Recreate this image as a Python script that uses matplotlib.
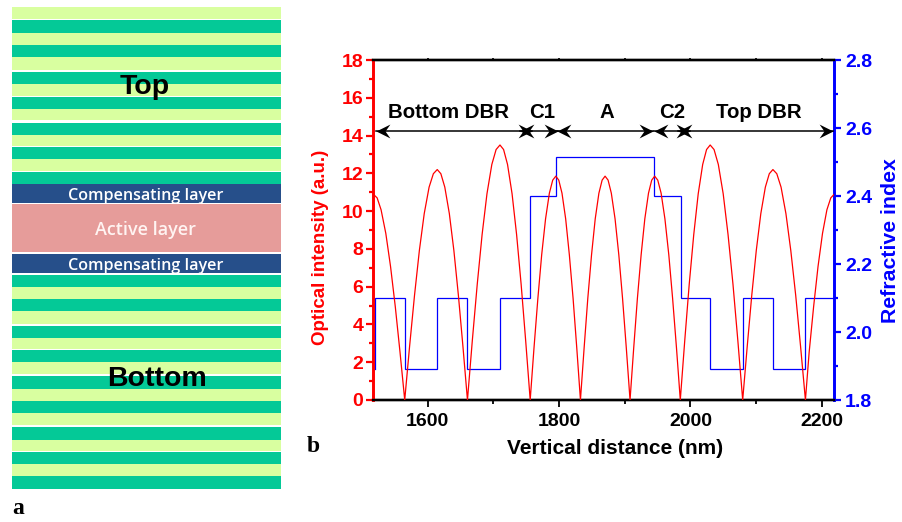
import matplotlib
matplotlib.use('Agg')
from matplotlib import pyplot as plt

plt.rcParams['font.family'] = ['Liberation Sans', 'DejaVu Sans']
plt.rcParams['font.weight'] = 'bold'
plt.rcParams['axes.labelweight'] = 'bold'

# optical intensity curve
distance = [
    1517, 1523, 1529, 1536.2, 1543.4, 1550.6, 1557.8, 1565,
    1572.4, 1579.9, 1587.3, 1594.7, 1602.1, 1608.6, 1614.5,
    1620, 1626, 1632.9, 1639.8, 1646.7, 1653.6, 1660.5,
    1667.9, 1675.4, 1682.8, 1690.2, 1697.6, 1704.1, 1710,
    1715.5, 1721.5, 1728.4, 1735.3, 1742.2, 1749.1, 1756,
    1761.8, 1767.7, 1773.5, 1779.4, 1785.2, 1790.3, 1795,
    1799.5, 1804.4, 1810, 1815.6, 1821.3, 1826.9, 1832.5,
    1838.1, 1843.7, 1849.4, 1855, 1860.6, 1865.5, 1870,
    1874.6, 1879.5, 1885.2, 1890.9, 1896.6, 1902.3, 1908,
    1913.6, 1919.2, 1924.9, 1930.5, 1936.1, 1941, 1945.5,
    1950.2, 1955.3, 1961.1, 1967, 1972.8, 1978.7, 1984.5,
    1991.3, 1998.1, 2005, 2011.8, 2018.6, 2024.5, 2030,
    2035.9, 2042.4, 2049.8, 2057.2, 2064.7, 2072.1, 2079.5,
    2086.4, 2093.3, 2100.2, 2107.1, 2114, 2120, 2125.5,
    2131.4, 2137.9, 2145.3, 2152.7, 2160.2, 2167.6, 2175,
    2180.7, 2187.5, 2194.2, 2201, 2207.7, 2213.6, 2219,
]
intensity = [
    10.9, 10.7, 10.07, 8.82, 7.07, 4.95, 2.54, 0,
    2.84, 5.54, 7.92, 9.87, 11.27, 11.98, 12.2,
    11.98, 11.27, 9.87, 7.92, 5.54, 2.84, 0,
    3.15, 6.13, 8.76, 10.92, 12.47, 13.26, 13.5,
    13.26, 12.47, 10.92, 8.76, 6.13, 3.15, 0,
    2.76, 5.38, 7.69, 9.59, 10.95, 11.64, 11.85,
    11.64, 10.95, 9.59, 7.69, 5.38, 2.76, 0,
    2.76, 5.38, 7.69, 9.59, 10.95, 11.64, 11.85,
    11.64, 10.95, 9.59, 7.69, 5.38, 2.76, 0,
    2.76, 5.38, 7.69, 9.59, 10.95, 11.64, 11.85,
    11.64, 10.95, 9.59, 7.69, 5.38, 2.76, 0,
    3.15, 6.13, 8.76, 10.92, 12.47, 13.26, 13.5,
    13.26, 12.47, 10.92, 8.76, 6.13, 3.15, 0,
    2.84, 5.54, 7.92, 9.87, 11.27, 11.98, 12.2,
    11.98, 11.27, 9.87, 7.92, 5.54, 2.84, 0,
    2.54, 4.95, 7.07, 8.82, 10.07, 10.7, 10.9,
]

# refractive index steps
step_x = [1519, 1519, 1565, 1565, 1614, 1614, 1660, 1660, 1710, 1710, 1755, 1755, 1795, 1795,
          1945, 1945, 1985, 1985, 2030, 2030, 2080, 2080, 2126, 2126, 2174, 2174, 2218]
step_n = [1.89, 2.1, 2.1, 1.89, 1.89, 2.1, 2.1, 1.89, 1.89, 2.1, 2.1, 2.4, 2.4, 2.515,
          2.515, 2.4, 2.4, 2.1, 2.1, 1.89, 1.89, 2.1, 2.1, 1.89, 1.89, 2.1, 2.1]

# regions marked over the curve, arrows overlap a bit like in the figure
region_names = ['Bottom DBR', 'C1', 'A', 'C2', 'Top DBR']
arrow_from = [1521, 1740.5, 1797, 1944.6, 1981]
arrow_to = [1759, 1798.4, 1942.6, 1999.6, 2217.5]
region_label_x = [1631, 1774, 1872, 1972, 2104]

# layer stack of panel a, top to bottom: start, end, kind
stack_tops = [7, 20, 32.5, 45, 57, 72, 84, 97, 109, 122.5, 135, 147, 159, 171.5, 184, 204, 253.5,
              274.5, 287, 299, 311, 325.5, 338, 349.5, 362, 376, 389, 401, 413, 427, 439.5, 451.5, 464, 476]
stack_ends = [19, 32.5, 44.5, 57, 69.5, 84, 96, 108.5, 120, 134.5, 146, 158.5, 171, 184, 202.5, 252, 272.5,
              286.5, 299, 311, 324, 338, 349, 362, 374, 389, 401, 413, 425, 439.5, 451, 464, 476, 489]
stack_kinds = ['l', 'g', 'l', 'g', 'l', 'g', 'l', 'g', 'l', 'g', 'l', 'g', 'l', 'g', 'n', 'p', 'n',
               'g', 'l', 'g', 'l', 'g', 'l', 'g', 'l', 'g', 'l', 'g', 'l', 'g', 'l', 'g', 'l', 'g']
kind_colors = {'l': '#D9FFA0', 'g': '#04C997', 'n': '#264F8A', 'p': '#E69C9A'}

W, H = 903, 522
fig = plt.figure(figsize=(W / 100, H / 100), dpi=100)

# panel a, drawn in picture pixels
panel = fig.add_axes([0, 0, 1, 1])
panel.set_xlim(0, W)
panel.set_ylim(H, 0)
panel.axis('off')
for top, end, kind in zip(stack_tops, stack_ends, stack_kinds):
    panel.fill_between([12, 281], top, end, color=kind_colors[kind], lw=0)
panel.text(145, 87, 'Top', fontsize=20.5, ha='center', va='center', color='black',
           family=['Liberation Sans'])
panel.text(157, 379, 'Bottom', fontsize=20.5, ha='center', va='center', color='black',
           family=['Liberation Sans'])
for y in [196, 266]:
    panel.text(146, y, 'Compensating layer', fontsize=11.6, ha='center', va='center', color='white',
               family=['Open Sans'], weight='semibold')
panel.text(146, 230, 'Active layer', fontsize=13, ha='center', va='center', color='#FFF4F2',
           family=['Open Sans'], weight='semibold')
panel.text(12, 509, 'a', fontsize=17, ha='left', va='center', family=['Liberation Serif'], color='black')
panel.text(307, 447, 'b', fontsize=17, ha='left', va='center', family=['Liberation Serif'], color='black')

# panel b
ax = fig.add_axes([373 / W, 1 - 400 / H, (834 - 373) / W, 340 / H])
ax.patch.set_alpha(0)
ax2 = ax.twinx()

ax.plot(distance, intensity, color='red', lw=0.9, solid_joinstyle='round', zorder=3)
ax2.plot(step_x, step_n, color='blue', lw=0.9, solid_joinstyle='miter', zorder=2)

ax.set_xlim(1516.7, 2218.5)
ax.set_ylim(0, 18)
ax2.set_ylim(1.8, 2.8)

ax.set_xticks([1600, 1800, 2000, 2200])
ax.set_xticks([1700, 1900, 2100], minor=True)
ax.set_yticks(range(0, 19, 2))
ax.set_yticks(range(1, 18, 2), minor=True)
ax2.set_yticks([1.8, 2.0, 2.2, 2.4, 2.6, 2.8])
ax2.set_yticklabels(['1.8', '2.0', '2.2', '2.4', '2.6', '2.8'])
ax2.set_yticks([1.9, 2.1, 2.3, 2.5, 2.7], minor=True)

ax.tick_params(axis='x', which='major', length=5, width=1.3, labelsize=14, pad=4, colors='black')
ax.tick_params(axis='x', which='minor', length=3, width=1.3)
ax.tick_params(axis='y', which='major', length=5, width=1.6, labelsize=14, pad=2, colors='red')
ax.tick_params(axis='y', which='minor', length=3, width=1.6, colors='red')
ax2.tick_params(axis='y', which='major', length=5, width=1.6, labelsize=14, pad=3, colors='blue')
ax2.tick_params(axis='y', which='minor', length=3, width=1.6, colors='blue')

# the little stubs on the top edge
top_ticks = ax.secondary_xaxis('top')
top_ticks.set_xticks([1600, 1700, 1800, 1900, 2000, 2100, 2200])
top_ticks.set_xticklabels([])
top_ticks.tick_params(length=1.5, width=1.2)
top_ticks.spines['top'].set_visible(False)

for a in [ax, ax2]:
    a.spines['top'].set_linewidth(1.7)
    a.spines['bottom'].set_linewidth(1.7)
    a.spines['left'].set_linewidth(1.9)
    a.spines['right'].set_linewidth(1.9)
    a.spines['left'].set_color('red')
    a.spines['right'].set_color('blue')

ax.set_xlabel('Vertical distance (nm)', fontsize=15, labelpad=7, color='black', x=0.524)
ax.set_ylabel('Optical intensity (a.u.)', fontsize=13.5, labelpad=9, color='red', y=0.45)
ax2.set_ylabel('Refractive index', fontsize=15.3, labelpad=6, color='blue', y=0.47)

ax2.set_zorder(1)
ax.set_zorder(2)

# notched arrow heads with the tip on the data point
head_right = [(0, 0), (-2, 1), (-1.3, 0), (-2, -1), (0, 0)]
head_left = [(0, 0), (2, 1), (1.3, 0), (2, -1), (0, 0)]
arrow_y = 14.24
for i in range(len(region_names)):
    ax.plot([arrow_from[i], arrow_to[i]], [arrow_y, arrow_y], color='black', lw=1.1, zorder=4, clip_on=False)
    ax.plot(arrow_from[i], arrow_y, marker=head_left, ms=20, color='black', mew=0, zorder=4, clip_on=False)
    ax.plot(arrow_to[i], arrow_y, marker=head_right, ms=20, color='black', mew=0, zorder=4, clip_on=False)
    ax.text(region_label_x[i], 15.2, region_names[i], fontsize=14.7, ha='center', va='center', color='black')

fig.savefig('out.png', dpi=100)
